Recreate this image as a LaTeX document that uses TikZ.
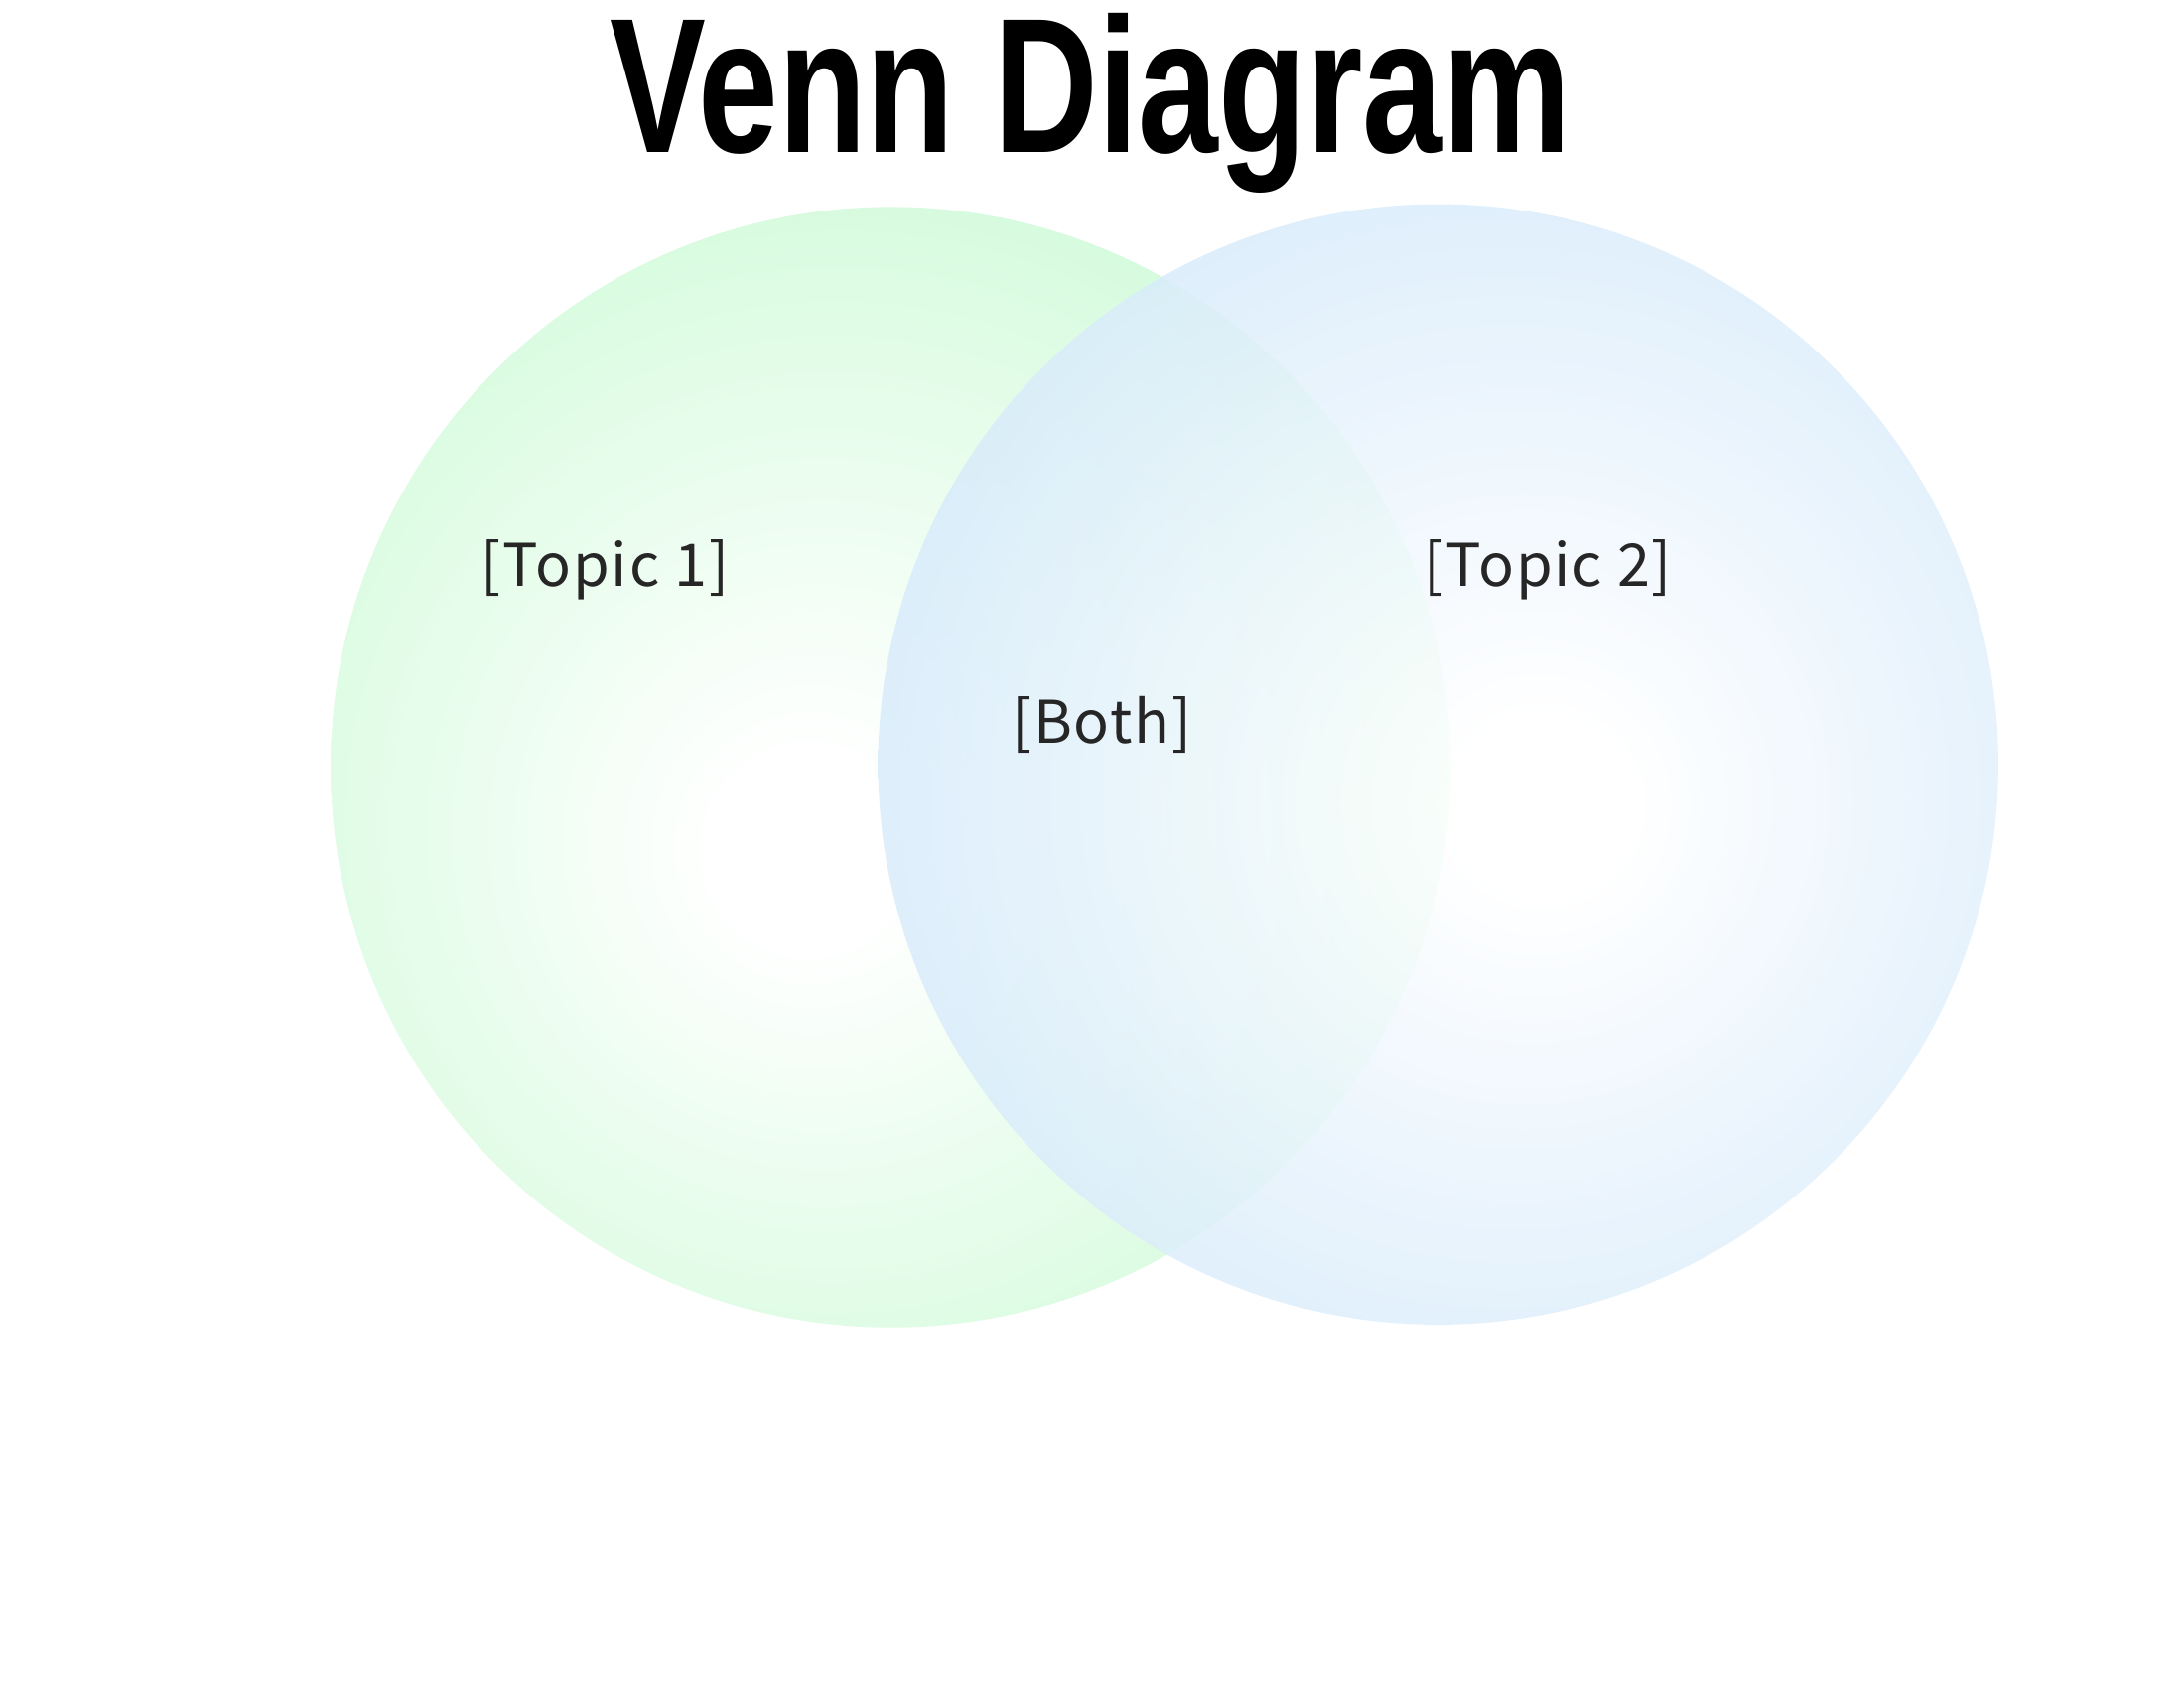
\documentclass[tikz,border=0pt]{standalone}
\usepackage{fontspec}
\setmainfont{Liberation Sans}
\newfontfamily\jpf[LetterSpace=3]{Noto Sans CJK JP}
\definecolor{gedge}{HTML}{C9FAD3}
\definecolor{bedge}{HTML}{CBE5FA}
\pgfdeclareradialshading{gball}{\pgfpoint{-4bp}{-4bp}}{color(0bp)=(white); color(4bp)=(white); color(36bp)=(gedge); color(60bp)=(gedge)}
\pgfdeclareradialshading{bball}{\pgfpoint{5bp}{-2bp}}{color(0bp)=(white); color(4bp)=(white); color(36bp)=(bedge); color(60bp)=(bedge)}
\tikzset{lbl/.style={font=\jpf\fontsize{42}{44}\selectfont, text=black!85}}
\begin{document}
\begin{tikzpicture}[x=1bp,y=-1bp]
\useasboundingbox[fill=white] (0,0) rectangle (1552,1200);
\shade[shading=gball] (633,545) circle (398);
\shade[shading=bball, fill opacity=0.85] (1022,543) circle (398);
\node[font=\bfseries\fontsize{137}{140}\selectfont, xscale=0.75, anchor=base] (title) at (775,108) {Venn Diagram};
\node[lbl] (t1) at (430,405) {[Topic 1]};
\node[lbl] (t2) at (1100,405) {[Topic 2]};
\node[lbl] (both) at (783,515) {[Both]};
\end{tikzpicture}
\end{document}
